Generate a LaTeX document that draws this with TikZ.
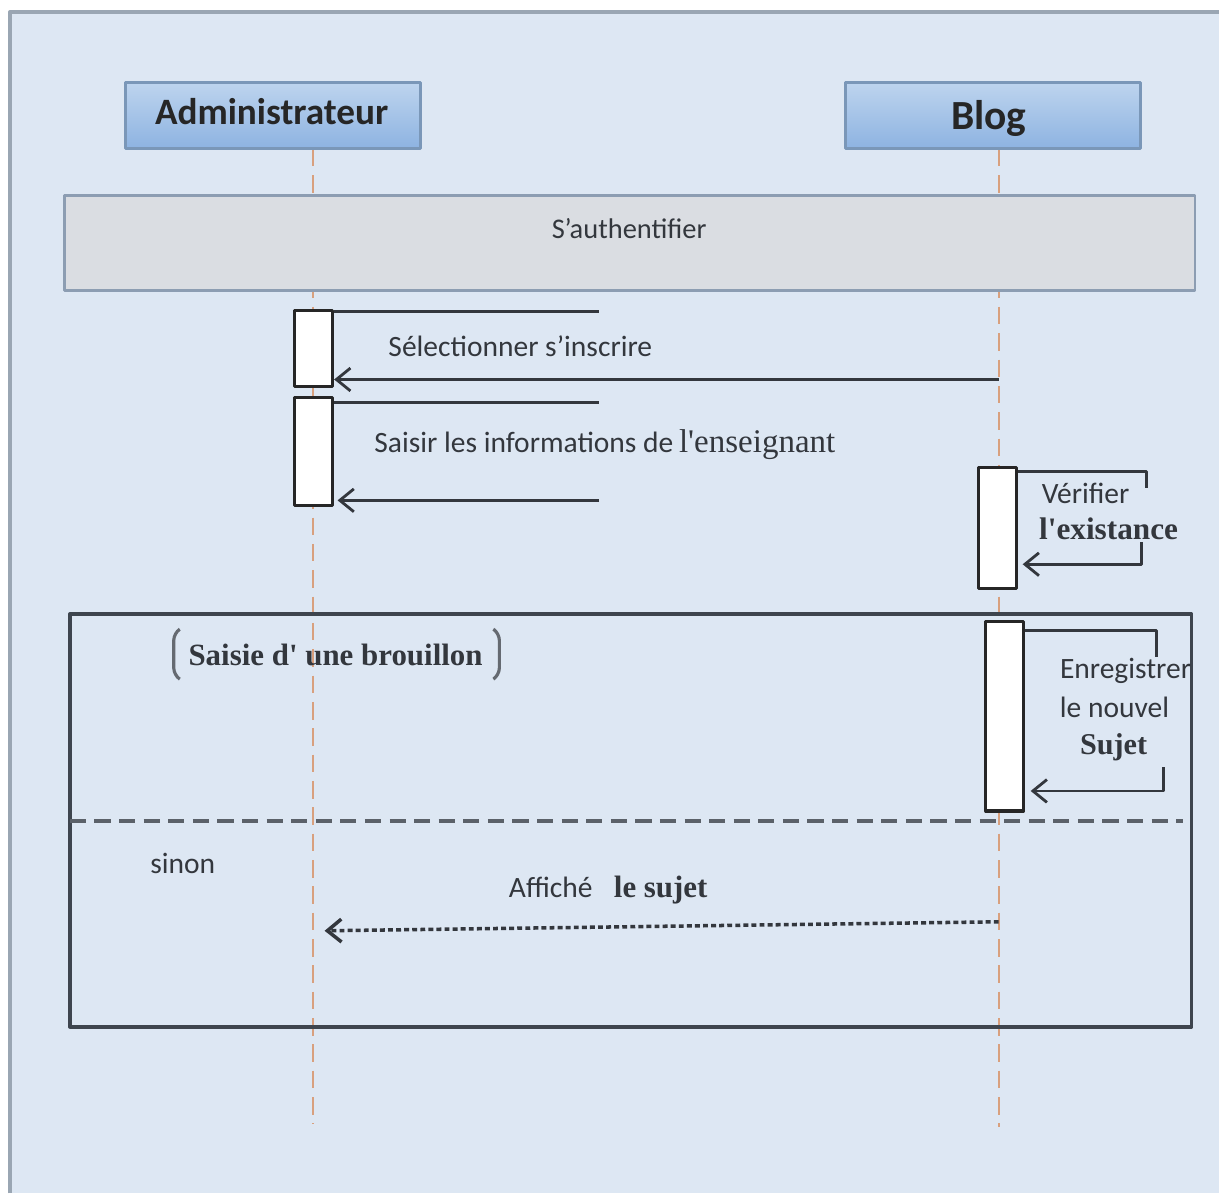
\documentclass[tikz,border=0pt]{standalone}
\usepackage{fontspec}
\setmainfont{Carlito}
\newfontfamily\timesf{Liberation Serif}
\usepackage{xcolor}
\usetikzlibrary{arrows.meta}

\definecolor{bgblue}{HTML}{DDE7F3}
\definecolor{framegray}{HTML}{9AA6B3}
\definecolor{headtop}{HTML}{BDD4EE}
\definecolor{headbot}{HTML}{8DB3E1}
\definecolor{headline}{HTML}{7A97B8}
\definecolor{refgray}{HTML}{DADDE2}
\definecolor{refline}{HTML}{8C9DB2}
\definecolor{lifeor}{HTML}{D8A07E}
\definecolor{ink}{HTML}{33373D}
\definecolor{fragline}{HTML}{3E454E}

\begin{document}
\begin{tikzpicture}[x=0.01cm,y=-0.01cm,>={Straight Barb[length=4pt,width=6.5pt]},line join=round,
  headbox/.style={draw=headline,line width=0.8pt,top color=headtop,bottom color=headbot,
    minimum width=2.95cm,minimum height=0.66cm,inner sep=0pt},
  actbox/.style={draw=black!85,fill=white,line width=0.9pt,minimum width=0.38cm,inner sep=0pt},
  lifeline/.style={lifeor,line width=0.6pt,dash pattern=on 5pt off 2.5pt},
  msg/.style={ink,line width=0.8pt},
  retmsg/.style={ink,line width=1pt,dash pattern=on 1.4pt off 0.9pt},
  msgtxt/.style={ink,font=\fontsize{8.4}{10}\selectfont,inner sep=0pt},
  sertxt/.style={ink,font=\timesf\bfseries\fontsize{8.8}{10}\selectfont,inner sep=0pt}]
  % page and frame
  \fill[white] (0,0) rectangle (1221,1195);
  \fill[bgblue] (10,12) rectangle (1221,1195);
  \draw[framegray,line width=0.9pt] (10,1195) -- (10,12) -- (1221,12);
  \useasboundingbox (0,0) rectangle (1221,1195);
  % lifelines
  \coordinate (LA0) at (313,149);
  \coordinate (LA1) at (313,1125);
  \coordinate (LB0) at (1000,149);
  \coordinate (LB1) at (1000,1128);
  \draw[lifeline] (LA0) -- (LA1);
  \draw[lifeline] (LB0) -- (LB1);
  % headers
  \node[headbox] (admin) at (273.5,116) {};
  \node[font=\bfseries\fontsize{10.6}{12}\selectfont,text=black!85,inner sep=0pt] (admintxt) at (272,112) {Administrateur};
  \node[headbox] (blog) at (994,116) {};
  \node[font=\bfseries\fontsize{11.8}{13}\selectfont,text=black!85,inner sep=0pt] (blogtxt) at (990,119) {Blog};
  % ref frame
  \node[draw=refline,fill=refgray,line width=0.7pt,minimum width=11.31cm,minimum height=0.95cm,inner sep=0pt] (auth) at (630.5,243.5) {};
  \node[msgtxt,font=\fontsize{8.1}{10}\selectfont] (authtxt) at (630,229) {S’authentifier};
  % activations
  \node[actbox,minimum height=0.76cm] (actA1) at (314,349) {};
  \node[actbox,minimum height=1.08cm] (actA2) at (314,452) {};
  \node[actbox,minimum height=1.21cm] (actB1) at (999,528.5) {};
  \node[actbox,minimum height=1.90cm] (actB2) at (1006,717) {};
  % messages
  \coordinate (M1a) at (600,312);
  \coordinate (M1s) at (1000,380);
  \coordinate (M2a) at (600,403);
  \coordinate (M2s) at (600,501);
  \coordinate (M2t) at (338,501);
  \draw[msg] (actA1.east |- M1a) -- (M1a);
  \draw[msg,->] (M1s) -- (actA1.east |- M1s);
  \node[msgtxt] (m1txt) at (521,347) {Sélectionner s’inscrire};
  \draw[msg] (actA2.east |- M2a) -- (M2a);
  \draw[msg,->] (M2s) -- (M2t);
  \node[msgtxt,anchor=base east] (m2txt) at (675,453) {Saisir les informations de};
  \node[sertxt,font=\timesf\fontsize{9.4}{11}\selectfont,anchor=base west] (m2ser) at ([xshift=1.2pt]m2txt.base east) {l'enseignant};
  % self message Blog 1
  \coordinate (S1a) at (1148,472);
  \coordinate (S1b) at (1148,489);
  \coordinate (S1c) at (1143,543);
  \coordinate (S1d) at (1143,565);
  \draw[msg] (actB1.east |- S1a) -- (S1a) -- (S1b);
  \draw[msg,->] (S1c) -- (S1d) -- (1024,565);
  \node[msgtxt] (s1txt) at (1087,494) {Vérifier};
  \node[sertxt,font=\timesf\bfseries\fontsize{8.9}{10}\selectfont] (s1ser) at (1110,529) {l'existance};
  % combined fragment
  \coordinate (F0) at (70,615);
  \coordinate (F1) at (1193,1028);
  \coordinate (D0) at (70,822);
  \coordinate (D1) at (1185,822);
  \draw[fragline,line width=1.1pt] (F0) rectangle (F1);
  \draw[fragline!85,line width=1.2pt,dash pattern=on 4.6pt off 2.4pt] (D0) -- (D1);
  \node[sertxt] (guard) at (336,656) {Saisie d' une brouillon};
  \draw[fragline!80,line width=0.9pt,rounded corners=2pt] (180,630) -- (174,634) -- (174,676) -- (180,680);
  \draw[fragline!80,line width=0.9pt,rounded corners=2pt] (494,630) -- (500,634) -- (500,676) -- (494,680);
  % self message Blog 2
  \coordinate (S2a) at (1158,631);
  \coordinate (S2b) at (1158,658);
  \coordinate (S2c) at (1165,768);
  \coordinate (S2d) at (1165,792);
  \draw[msg] (actB2.east |- S2a) -- (S2a) -- (S2b);
  \draw[msg,->] (S2c) -- (S2d) -- (1032,792);
  \node[msgtxt] (s2txt) at (1127,672) {Enregistrer};
  \node[msgtxt] (s2txtb) at (1116,708) {le nouvel};
  \node[sertxt,font=\timesf\bfseries\fontsize{8.6}{10}\selectfont] (s2ser) at (1115,748) {Sujet};
  % else part
  \node[msgtxt] (sinon) at (183,865) {sinon};
  \coordinate (R0) at (1000,923);
  \coordinate (R1) at (325,932);
  \draw[retmsg,->] (R0) -- (R1);
  \node[msgtxt,anchor=base east] (rtxt) at (594,899) {Affiché};
  \node[sertxt,anchor=base west] (rser) at (614,899) {le sujet};
\end{tikzpicture}
\end{document}
